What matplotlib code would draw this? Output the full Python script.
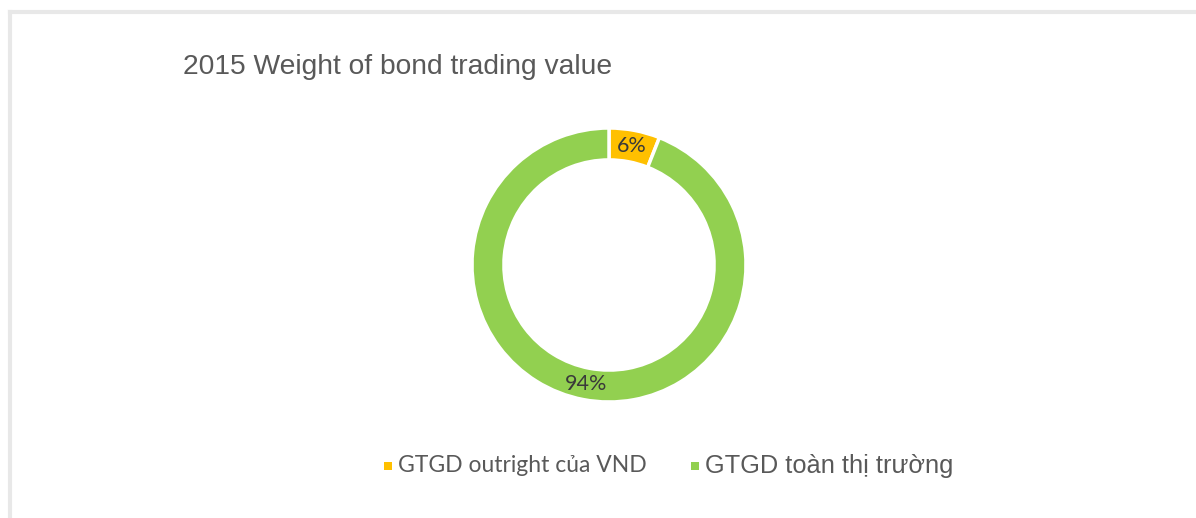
import matplotlib.pyplot as plt
from matplotlib.lines import Line2D
from matplotlib.patches import Rectangle

# Dados do gráfico
title = "2015 Weight of bond trading value"
labels = ["GTGD outright của VND", "GTGD toàn thị trường"]
values = [6, 94]
colors = ["#FFC000", "#92D050"]

W, H = 1196, 518
fig = plt.figure(figsize=(W / 100, H / 100), dpi=100)
fig.patch.set_facecolor("white")

# moldura cinza (esquerda e topo)
fig.add_artist(Line2D([10 / W, 10 / W], [0, 1 - 12 / H], color="#e8e8e8", lw=3,
                      transform=fig.transFigure))
fig.add_artist(Line2D([10 / W, 1], [1 - 12 / H, 1 - 12 / H], color="#e8e8e8", lw=3,
                      transform=fig.transFigure))

# título
fig.text(183 / W, 1 - 74 / H, title, fontsize=20.3, color="#595959",
         family="Liberation Sans", ha="left", va="baseline")

# rosca
cx, cy, side = 609, 265, 300
ax = fig.add_axes([(cx - side / 2) / W, (H - cy - side / 2) / H, side / W, side / H])
wedges, texts, autotexts = ax.pie(
    values, colors=colors, startangle=90, counterclock=False, radius=1,
    autopct=lambda p: f"{p:.0f}%", pctdistance=0.883,
    wedgeprops=dict(width=0.233, edgecolor="white", linewidth=2.5))
for t in autotexts:
    t.set_fontsize(15.5)
    t.set_color("#3a3a3a")
    t.set_family("Lato")
lim = 150 / 137
ax.set_xlim(-lim, lim)
ax.set_ylim(-lim, lim)
ax.set_aspect("equal")
ax.axis("off")

# legenda manual
leg_x = [384, 691]
leg_fonts = [("Lato", 16.5), ("Liberation Sans", 18.3)]
leg_y = 466
for lab, col, x, (fam, fs) in zip(labels, colors, leg_x, leg_fonts):
    fig.add_artist(Rectangle((x / W, 1 - (leg_y + 4) / H), 8 / W, 8 / H,
                             facecolor=col, edgecolor="none", transform=fig.transFigure))
    fig.text((x + 14) / W, 1 - leg_y / H, lab, fontsize=fs, color="#595959",
             family=fam, ha="left", va="center")

fig.savefig("out.png", dpi=100, facecolor="white")
